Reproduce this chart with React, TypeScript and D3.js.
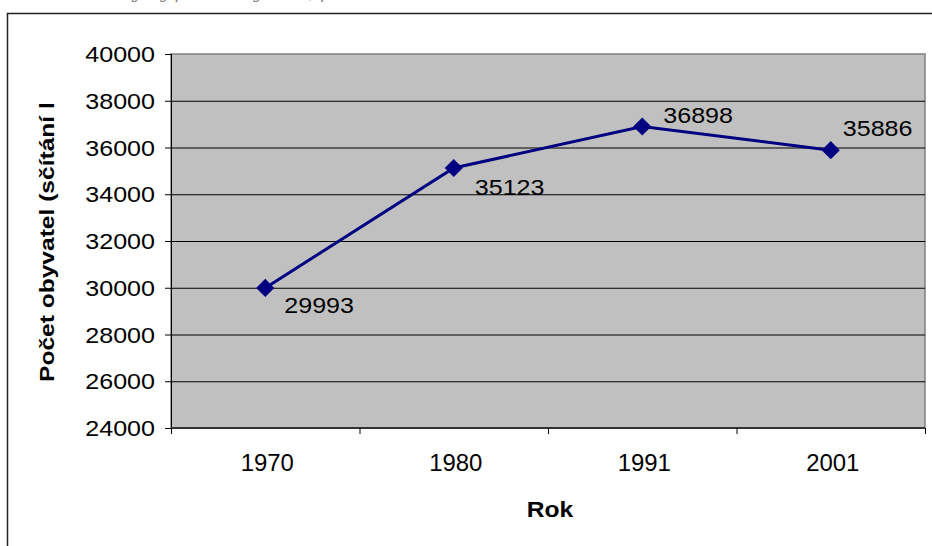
import React from 'react';
import * as d3 from 'd3';

const years = ['1970', '1980', '1991', '2001'];
const population = [29993, 35123, 36898, 35886];
const yTicks = [24000, 26000, 28000, 30000, 32000, 34000, 36000, 38000, 40000];

// label placement relative to the marker (dragged by hand in the original)
const labelOffsets: [number, number][] = [
  [19, 25],
  [21, 27],
  [21, -4],
  [12, -14],
];

const font = '"Liberation Sans", Arial, sans-serif';

// the original screenshot is a little stretched sideways, so text is widened
const Wide = ({ x, y, sx = 1.14, anchor = 'start', size = 22, bold = false, rotate = 0, children }: any) => (
  <text
    transform={`translate(${x}, ${y}) rotate(${rotate}) scale(${sx}, 1)`}
    textAnchor={anchor}
    fontFamily={font}
    fontSize={size}
    fontWeight={bold ? 'bold' : 'normal'}
    fill="#000"
  >
    {children}
  </text>
);

const App = () => {
  const Width = 932;
  const Height = 546;
  const plot = { left: 171, top: 54, right: 925, bottom: 428 };

  const xScale = d3.scaleBand().domain(years).range([plot.left, plot.right]);
  const yScale = d3.scaleLinear().domain([24000, 40000]).range([plot.bottom, plot.top]);

  const cx = (d: string) => (xScale(d) as number) + xScale.bandwidth() / 2;

  const line = d3
    .line<number>()
    .x((_, i) => cx(years[i]))
    .y((d) => yScale(d));

  const diamond = d3.symbol().type(d3.symbolDiamond2).size(210)();

  const boundaries = [...years.map((d) => xScale(d) as number), plot.right];

  return (
    <svg width={Width} height={Height} style={{ position: 'absolute', left: 0, top: 0 }}>
      <rect x={0} y={0} width={Width} height={Height} fill="#fff" />
      {/* caption above the chart, cut off by the page edge */}
      <text x={120} y={-2} fontFamily='"DejaVu Serif", serif' fontStyle="italic" fontSize={18} fill="#888">
        Vývoj počtu obyvatel, podle sčítání lidu
      </text>

      {/* chart frame */}
      <path d={`M7.5,${Height + 5} V13.5 H${Width + 5}`} fill="none" stroke="#222" strokeWidth={1.5} />

      {/* plot area */}
      <rect
        x={plot.left}
        y={plot.top}
        width={plot.right - plot.left}
        height={plot.bottom - plot.top}
        fill="#c0c0c0"
        stroke="#808080"
        strokeWidth={1.5}
      />

      {yTicks.map((t) => (
        <g key={t}>
          {t > 24000 && t < 40000 && (
            <line x1={plot.left} x2={plot.right} y1={yScale(t) + 0.5} y2={yScale(t) + 0.5} stroke="#000" strokeWidth={1} />
          )}
          <line x1={plot.left - 6} x2={plot.left} y1={yScale(t) + 0.5} y2={yScale(t) + 0.5} stroke="#000" />
          <Wide x={155} y={yScale(t) + 8} anchor="end">
            {t}
          </Wide>
        </g>
      ))}

      {/* axes */}
      <line x1={plot.left + 0.5} x2={plot.left + 0.5} y1={plot.top} y2={plot.bottom + 6} stroke="#000" />
      <line x1={plot.left} x2={plot.right} y1={plot.bottom} y2={plot.bottom} stroke="#333" strokeWidth={2} />
      {boundaries.map((b, i) => (
        <line key={i} x1={b + 0.5} x2={b + 0.5} y1={plot.bottom} y2={plot.bottom + 6} stroke="#000" />
      ))}

      {years.map((d) => (
        <Wide key={d} x={cx(d) + 2} y={471} anchor="middle" size={23} sx={1.04}>
          {d}
        </Wide>
      ))}

      <Wide x={550} y={517} anchor="middle" bold sx={1.12}>
        Rok
      </Wide>

      <Wide x={54} y={382} rotate={-90} size={21} bold sx={1.17}>
        Počet obyvatel (sčítání l
      </Wide>

      {/* series */}
      <path d={line(population) || ''} fill="none" stroke="#000080" strokeWidth={3} />
      {population.map((v, i) => (
        <path key={i} d={diamond || ''} transform={`translate(${cx(years[i])}, ${yScale(v)})`} fill="#000080" />
      ))}
      {population.map((v, i) => (
        <Wide key={i} x={cx(years[i]) + labelOffsets[i][0]} y={yScale(v) + labelOffsets[i][1]}>
          {v}
        </Wide>
      ))}
    </svg>
  );
};

export default App;
